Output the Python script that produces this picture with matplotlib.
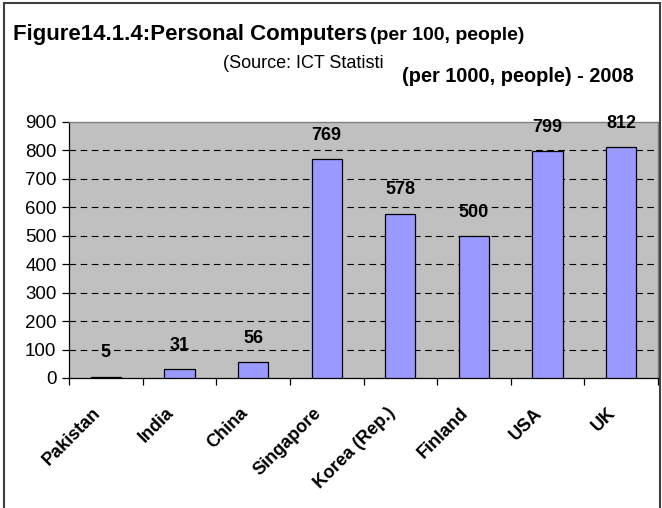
import matplotlib
matplotlib.use("Agg")
import matplotlib.pyplot as plt
import matplotlib.transforms as mtransforms
from matplotlib.lines import Line2D

# data
countries = ["Pakistan", "India", "China", "Singapore", "Korea (Rep.)", "Finland", "USA", "UK"]
pcs_per_1000 = [5, 31, 56, 769, 578, 500, 799, 812]
y_ticks = [0, 100, 200, 300, 400, 500, 600, 700, 800, 900]

plt.rcParams['font.family'] = ['Liberation Sans', 'DejaVu Sans']

fig = plt.figure(figsize=(6.62, 5.08), dpi=100)
ax = fig.add_axes([69 / 662, 1 - 378 / 508, 589 / 662, 256 / 508])

x = list(range(len(countries)))
ax.set_facecolor('#C0C0C0')
ax.bar(x, pcs_per_1000, width=0.41, color='#9999FF', edgecolor='black',
       linewidth=0.9, zorder=3)

for xi, v in zip(x, pcs_per_1000):
    ax.annotate(str(v), (xi, v), xytext=(0, 17), textcoords='offset points',
                ha='center', va='center', fontsize=13, fontweight='bold')

ax.set_xlim(-0.5, len(countries) - 0.5)
ax.set_ylim(0, 900)
ax.set_yticks(y_ticks)
ax.set_yticklabels([str(t) for t in y_ticks], fontsize=13.5)
ax.tick_params(axis='y', direction='out', length=5, width=0.9, pad=4)

# category boundaries get the tick marks, labels sit at the centres
ax.set_xticks([i - 0.5 for i in range(len(countries) + 1)])
ax.set_xticklabels([])
ax.tick_params(axis='x', which='major', direction='out', length=5, width=0.9)
ax.set_xticks(x, minor=True)
ax.set_xticklabels(countries, minor=True, rotation=45, ha='right',
                   rotation_mode='anchor', fontsize=13, fontweight='bold')
ax.tick_params(axis='x', which='minor', length=0, pad=19)
shift = mtransforms.ScaledTranslation(-14 / 100, 0, fig.dpi_scale_trans)
for lbl in ax.get_xticklabels(minor=True):
    lbl.set_transform(lbl.get_transform() + shift)

# dashed gridlines
for t in y_ticks[1:-1]:
    ax.axhline(t, color='black', linewidth=0.8, dashes=(6, 4), zorder=1)

for side in ['top', 'right']:
    ax.spines[side].set_color('#808080')
    ax.spines[side].set_linewidth(1.0)
for side in ['left', 'bottom']:
    ax.spines[side].set_color('black')
    ax.spines[side].set_linewidth(0.9)

# titles
t1 = fig.text(13 / 662, 1 - 40 / 508, "Figure14.1.4:Personal Computers",
              fontsize=16, fontweight='bold', va='baseline', ha='left')
fig.canvas.draw()
bb = t1.get_window_extent()
fig.text((bb.x1 + 3) / 662, 1 - 40 / 508, "(per 100, people)",
         fontsize=14, fontweight='bold', va='baseline', ha='left')
fig.text(223 / 662, 1 - 68 / 508, "(Source: ICT Statisti", fontsize=13,
         va='baseline', ha='left')
fig.text(402 / 662, 1 - 82 / 508, "(per 1000, people) - 2008", fontsize=14.4,
         fontweight='bold', va='baseline', ha='left')

# outer frame
frame_col = '#404040'
fig.add_artist(Line2D([4 / 662, 4 / 662], [0, 1 - 3 / 508], color=frame_col, linewidth=1.5))
fig.add_artist(Line2D([4 / 662, 660 / 662], [1 - 3 / 508, 1 - 3 / 508], color=frame_col, linewidth=1.5))
fig.add_artist(Line2D([660 / 662, 660 / 662], [0, 1 - 3 / 508], color=frame_col, linewidth=1.5))

fig.savefig("out.png", dpi=100)
